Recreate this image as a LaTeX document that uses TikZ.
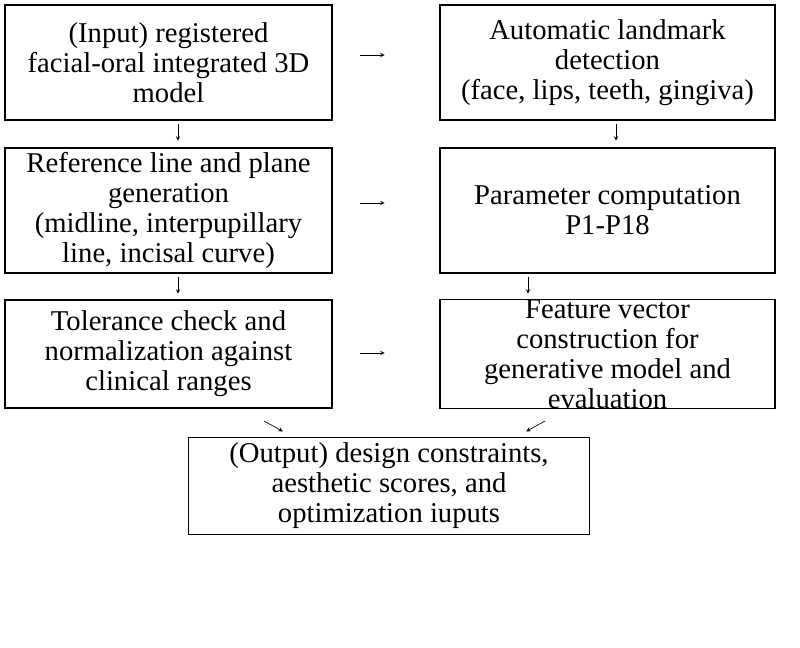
\documentclass[tikz,border=0pt]{standalone}
\usepackage{fontspec}
\setmainfont{Liberation Serif}
\begin{document}
\begin{tikzpicture}[x=0.75pt,y=-0.75pt,
  stage/.style={draw, line width=1.1pt, align=center, inner sep=0pt,
    font=\fontsize{21.5}{22.5}\selectfont},
  flow/.style={-stealth, line width=0.5pt, shorten >=1pt}]

	% Frame
	\useasboundingbox (0,0) rectangle (800,647);

	% Define nodes
	\node[stage, minimum width=245pt, minimum height=86pt] (input) at (168.5,62.5) {(Input) registered\\facial-oral integrated 3D\\model};
	\node[stage, minimum width=251pt, minimum height=86pt] (detect) at (607.5,62.5) {Automatic landmark\\detection\\(face, lips, teeth, gingiva)};
	\node[stage, minimum width=245pt, minimum height=94pt] (refline) at (168.5,210.5) {Reference line and plane\\generation\\(midline, interpupillary\\line, incisal curve)};
	\node[stage, minimum width=251pt, minimum height=94pt] (param) at (607.5,210.5) {Parameter computation\\P1-P18};
	\node[stage, minimum width=245pt, minimum height=81pt] (toler) at (168.5,354) {Tolerance check and\\normalization against\\clinical ranges};
	\node[stage, minimum width=251pt, minimum height=81pt] (feature) at (607.5,354) {Feature vector\\construction for\\generative model and\\evaluation};
	\node[stage, minimum width=301pt, minimum height=73pt] (output) at (389,486) {(Output) design constraints,\\aesthetic scores, and\\optimization iuputs};

	% Connectors
	\coordinate (h1a) at (360,55);  \coordinate (h1b) at (386,55);
	\coordinate (h2a) at (360,203); \coordinate (h2b) at (386,203);
	\coordinate (h3a) at (360,353); \coordinate (h3b) at (386,353);
	\coordinate (v1a) at (178,124); \coordinate (v1b) at (178,142);
	\coordinate (v2a) at (616,124); \coordinate (v2b) at (616,142);
	\coordinate (v3a) at (178,277); \coordinate (v3b) at (178,295);
	\coordinate (v4a) at (528,277); \coordinate (v4b) at (528,295);
	\coordinate (d1a) at (264,421); \coordinate (d1b) at (284,432);
	\coordinate (d2a) at (545,421); \coordinate (d2b) at (525,432);
	\foreach \a/\b in {h1a/h1b,h2a/h2b,h3a/h3b,v1a/v1b,v2a/v2b,v3a/v3b,v4a/v4b,d1a/d1b,d2a/d2b}
		\draw[flow] (\a) -- (\b);

\end{tikzpicture}
\end{document}
